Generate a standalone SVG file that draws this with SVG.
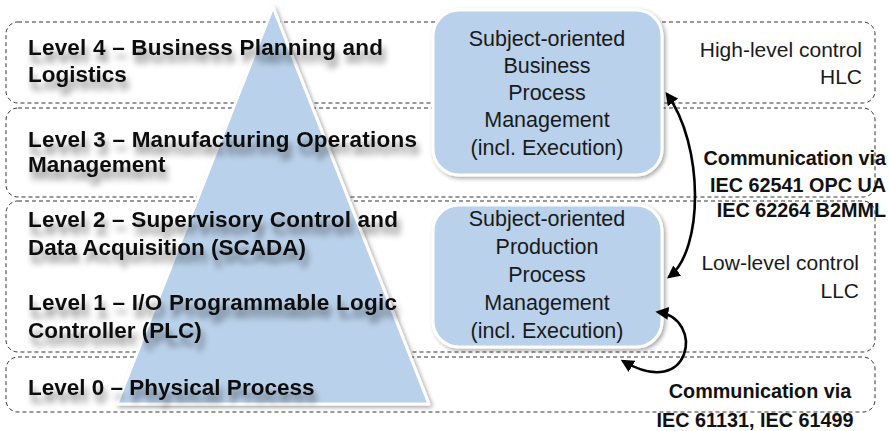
<svg xmlns="http://www.w3.org/2000/svg" width="889" height="431" viewBox="0 0 889 431">
  <defs>
    <style>
      .band { fill: none; stroke: #333; stroke-width: 1; stroke-dasharray: 4 3; }
      .lvl { font-family: "Liberation Sans", Arial, sans-serif; font-weight: bold; font-size: 22.5px; fill: #111; }
      .box { fill: #b9d1ea; stroke: #fff; stroke-width: 3; }
      .boxtxt { font-family: "Liberation Sans", Arial, sans-serif; font-size: 21.5px; fill: #1a1a1a; text-anchor: middle; }
      .side { font-family: "Liberation Sans", Arial, sans-serif; font-size: 21px; fill: #1a1a1a; text-anchor: end; }
      .comm { font-family: "Liberation Sans", Arial, sans-serif; font-weight: bold; font-size: 19.8px; fill: #111; }
      .conn { fill: none; stroke: #000; stroke-width: 2.6; }
    </style>
    <filter id="textShadow" x="-5%" y="-30%" width="115%" height="190%">
      <feGaussianBlur in="SourceAlpha" stdDeviation="3" result="b"/>
      <feOffset in="b" dx="3" dy="8" result="o"/>
      <feComponentTransfer in="o" result="s">
        <feFuncA type="linear" slope="0.45"/>
      </feComponentTransfer>
      <feMerge>
        <feMergeNode in="s"/>
        <feMergeNode in="SourceGraphic"/>
      </feMerge>
    </filter>
    <filter id="shapeShadow" x="-10%" y="-10%" width="125%" height="125%">
      <feGaussianBlur in="SourceAlpha" stdDeviation="2" result="b"/>
      <feOffset in="b" dx="2" dy="2" result="o"/>
      <feComponentTransfer in="o" result="s">
        <feFuncA type="linear" slope="0.35"/>
      </feComponentTransfer>
      <feMerge>
        <feMergeNode in="s"/>
        <feMergeNode in="SourceGraphic"/>
      </feMerge>
    </filter>
    <marker id="arrow" viewBox="0 0 10 10" refX="8" refY="5" markerWidth="5" markerHeight="5" orient="auto-start-reverse" markerUnits="strokeWidth">
      <path d="M0,0 L10,5 L0,10 z" fill="#000"/>
    </marker>
  </defs>

  <rect width="889" height="431" fill="#fff"/>

  <!-- Dashed level bands -->
  <g id="bands">
    <rect class="band" x="6" y="22" width="869" height="81" rx="12"/>
    <rect class="band" x="6" y="108" width="869" height="89" rx="12"/>
    <rect class="band" x="6" y="201" width="869" height="151" rx="12"/>
    <rect class="band" x="6" y="357" width="869" height="55" rx="12"/>
  </g>

  <!-- Automation pyramid -->
  <g id="pyramid" filter="url(#shapeShadow)">
    <polygon points="273,7 117,404 429,404" fill="#b9d1ea" stroke="#fff" stroke-width="3" stroke-linejoin="round"/>
  </g>

  <!-- Level labels -->
  <g id="levels" filter="url(#textShadow)">
    <g id="level4">
      <text class="lvl" x="28" y="55" textLength="355" lengthAdjust="spacing">Level 4 – Business Planning and</text>
      <text class="lvl" x="28" y="82">Logistics</text>
    </g>
    <g id="level3">
      <text class="lvl" x="28" y="147" textLength="389" lengthAdjust="spacing">Level 3 – Manufacturing Operations</text>
      <text class="lvl" x="28" y="172">Management</text>
    </g>
    <g id="level2">
      <text class="lvl" x="28" y="227" textLength="370" lengthAdjust="spacing">Level 2 – Supervisory Control and</text>
      <text class="lvl" x="28" y="255">Data Acquisition (SCADA)</text>
    </g>
    <g id="level1">
      <text class="lvl" x="28" y="310" textLength="369" lengthAdjust="spacing">Level 1 – I/O Programmable Logic</text>
      <text class="lvl" x="28" y="338">Controller (PLC)</text>
    </g>
    <g id="level0">
      <text class="lvl" x="28" y="395">Level 0 – Physical Process</text>
    </g>
  </g>

  <!-- Subject-oriented process management boxes -->
  <g id="business-bpm">
    <rect class="box" x="433" y="10" width="229" height="165" rx="26" filter="url(#shapeShadow)"/>
    <text class="boxtxt" x="547" y="46">Subject-oriented</text>
    <text class="boxtxt" x="547" y="73">Business</text>
    <text class="boxtxt" x="547" y="100">Process</text>
    <text class="boxtxt" x="547" y="127">Management</text>
    <text class="boxtxt" x="547" y="155">(incl. Execution)</text>
  </g>
  <g id="production-bpm">
    <rect class="box" x="433" y="205" width="229" height="142" rx="26" filter="url(#shapeShadow)"/>
    <text class="boxtxt" x="547" y="226">Subject-oriented</text>
    <text class="boxtxt" x="547" y="254">Production</text>
    <text class="boxtxt" x="547" y="282">Process</text>
    <text class="boxtxt" x="547" y="310">Management</text>
    <text class="boxtxt" x="547" y="338">(incl. Execution)</text>
  </g>

  <!-- Control level captions -->
  <g id="hlc">
    <text class="side" x="862" y="57">High-level control</text>
    <text class="side" x="862" y="84">HLC</text>
  </g>
  <g id="llc">
    <text class="side" x="859" y="270">Low-level control</text>
    <text class="side" x="859" y="298">LLC</text>
  </g>

  <!-- Communication standards -->
  <g id="comm-upper">
    <text class="comm" x="886" y="165" text-anchor="end">Communication via</text>
    <text class="comm" x="886" y="192" text-anchor="end">IEC 62541 OPC UA</text>
    <text class="comm" x="886" y="217" text-anchor="end">IEC 62264 B2MML</text>
  </g>
  <g id="comm-lower">
    <text class="comm" x="760" y="398" text-anchor="middle">Communication via</text>
    <text class="comm" x="755" y="427" text-anchor="middle">IEC 61131, IEC 61499</text>
  </g>

  <!-- Connectors -->
  <g id="connectors">
    <path class="conn" d="M667,94 C704,145 704,250 669,277" marker-start="url(#arrow)" marker-end="url(#arrow)"/>
    <path class="conn" d="M658,312 C705,318 692,402 623,361" marker-start="url(#arrow)" marker-end="url(#arrow)"/>
  </g>
</svg>
